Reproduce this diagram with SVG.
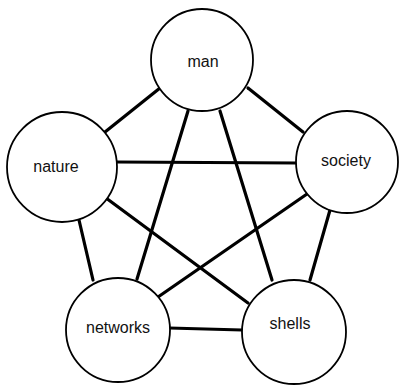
<svg xmlns="http://www.w3.org/2000/svg" width="400" height="385" viewBox="0 0 400 385">
<style>
.edge{stroke:#000;stroke-width:3.2;stroke-linecap:round;fill:none}
.node circle{fill:#fff;stroke:#000;stroke-width:1.8}
.node text{font-family:"Liberation Sans",Arial,sans-serif;font-size:16px;fill:#111;text-anchor:middle}
</style>
<rect width="400" height="385" fill="#fff"/>
<g id="connectors">
<line class="edge" x1="160" y1="88" x2="105" y2="132"/>
<line class="edge" x1="248" y1="88" x2="303" y2="132"/>
<line class="edge" x1="188" y1="111" x2="137" y2="279"/>
<line class="edge" x1="220" y1="111" x2="272" y2="280"/>
<line class="edge" x1="116" y1="162" x2="297" y2="163"/>
<line class="edge" x1="79" y1="220" x2="93" y2="280"/>
<line class="edge" x1="106" y1="198" x2="248" y2="303"/>
<line class="edge" x1="307" y1="194" x2="158" y2="297"/>
<line class="edge" x1="330" y1="210" x2="310" y2="280"/>
<line class="edge" x1="169" y1="328" x2="242" y2="330"/>
</g>
<g id="man" class="node"><circle cx="202" cy="60" r="51"/><text x="203" y="67">man</text></g>
<g id="nature" class="node"><circle cx="62" cy="167" r="55"/><text x="56" y="172">nature</text></g>
<g id="society" class="node"><circle cx="347" cy="162" r="51"/><text x="346" y="166">society</text></g>
<g id="networks" class="node"><circle cx="118" cy="330" r="52"/><text x="118" y="333">networks</text></g>
<g id="shells" class="node"><circle cx="294" cy="332" r="52"/><text x="290" y="329">shells</text></g>
</svg>
